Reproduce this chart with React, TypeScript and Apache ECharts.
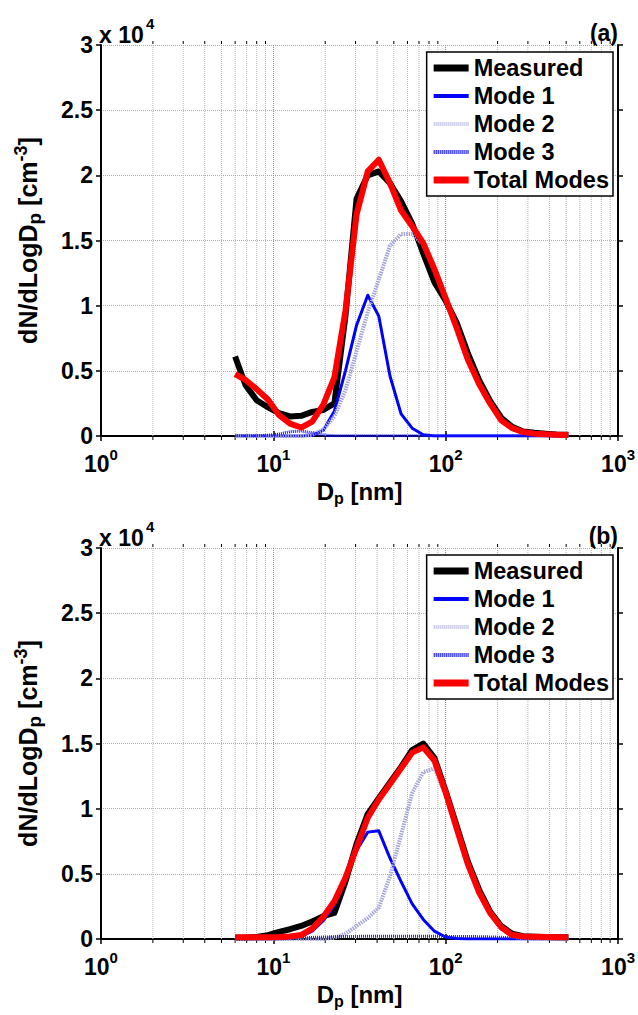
import React, { useEffect, useRef } from "react";
import * as echarts from "echarts";

// particle diameter grid [nm]
const dp = [6.0, 6.9, 8.0, 9.3, 10.8, 12.5, 14.5, 16.8, 19.5, 22.6, 26.2, 30.4, 35.3, 40.9, 47.5, 55.1, 63.9, 74.1, 86.0, 99.7, 115.7, 134, 156, 181, 210, 243, 282, 327, 380, 440, 515];

// panel (a) dN/dLogDp [cm^-3]
const measuredA = [6100, 3900, 2750, 2200, 1750, 1500, 1550, 1850, 2000, 2500, 9200, 18200, 20000, 20300, 19400, 18000, 16300, 14000, 11800, 10400, 8700, 6400, 4300, 2700, 1400, 700, 350, 250, 180, 120, 100];
const mode1A = [0, 0, 0, 0, 0, 0, 0, 30, 450, 1900, 5000, 8500, 10800, 9200, 4600, 1700, 600, 100, 0, 0, 0, 0, 0, 0, 0, 0, 0, 0, 0, 0, 0];
const mode2A = [0, 0, 0, 0, 0, 0, 0, 100, 500, 1500, 3500, 6500, 9500, 12000, 14600, 15500, 15500, 14700, 12700, 10500, 8200, 5800, 3900, 2400, 1150, 550, 280, 150, 90, 50, 30];
const mode3A = [20, 20, 30, 60, 150, 330, 380, 250, 80, 20, 10, 10, 10, 10, 10, 10, 10, 10, 10, 10, 10, 10, 10, 10, 10, 10, 10, 10, 10, 10, 10];
const totalA = [4750, 4300, 3600, 2800, 1600, 950, 650, 1100, 2400, 4500, 9600, 17000, 20300, 21200, 19400, 17300, 16100, 14800, 12800, 10600, 8300, 5900, 4000, 2500, 1200, 600, 300, 180, 130, 100, 80];

// panel (b)
const measuredB = [100, 100, 150, 300, 550, 750, 1000, 1350, 1750, 2000, 4400, 7300, 9600, 10800, 12000, 13200, 14500, 15000, 13900, 11400, 8700, 6000, 3800, 2100, 1000, 400, 220, 180, 150, 140, 130];
const mode1B = [0, 0, 0, 0, 0, 50, 200, 600, 1400, 2600, 4500, 6800, 8200, 8300, 6200, 4400, 2700, 1500, 600, 150, 30, 0, 0, 0, 0, 0, 0, 0, 0, 0, 0];
const mode2B = [0, 0, 0, 0, 0, 0, 0, 0, 0, 100, 400, 1000, 1600, 2400, 4800, 8000, 11200, 12800, 13100, 11100, 8400, 5700, 3500, 1900, 800, 200, 60, 20, 10, 10, 10];
const mode3B = [0, 0, 0, 0, 10, 30, 80, 120, 150, 180, 200, 200, 210, 210, 210, 210, 210, 210, 210, 200, 200, 190, 180, 160, 130, 90, 50, 20, 10, 5, 0];
const totalB = [130, 130, 130, 130, 150, 200, 300, 800, 1700, 2900, 4700, 7000, 9300, 10700, 11900, 13100, 14300, 14700, 13700, 11300, 8500, 5800, 3600, 2000, 900, 300, 200, 170, 150, 140, 130];

// minor log tick positions
const minorX = [2, 3, 4, 5, 6, 7, 8, 9, 20, 30, 40, 50, 60, 70, 80, 90, 200, 300, 400, 500, 600, 700, 800, 900];

const seriesNames = ["Measured", "Mode 1", "Mode 2", "Mode 3", "Total Modes"];
const panelLabels = ["(a)", "(b)"];

const FONT = "'Liberation Sans', Arial, Helvetica, sans-serif";
const Y_MAX = 30000;

function solidIcon(h: number) {
  return `path://M0,0L35,0L35,${h}L0,${h}Z`;
}
function stripedIcon(h: number) {
  let d = "";
  for (let x = 0; x < 35; x += 2) {
    d += `M${x},0L${x + 1.2},0L${x + 1.2},${h}L${x},${h}Z`;
  }
  d += `M34,0L35,0L35,${h}L34,${h}Z`;
  return "path://" + d;
}

export default function App() {
  const ref = useRef<HTMLDivElement>(null);

  useEffect(() => {
    if (!ref.current) return;
    const chart = echarts.init(ref.current, undefined, { renderer: "svg" });

    const gridTop = [45, 548];
    const gridH = 391;

    const pairs = (arr: number[]) => dp.map((d, i) => [d, arr[i]]);

    const xAxes: any[] = [];
    const yAxes: any[] = [];
    const series: any[] = [];
    const legends: any[] = [];
    const graphics: any[] = [];

    const xLabelRich = {
      b: { fontSize: 23, fontWeight: "bold", fontFamily: FONT, color: "#000", lineHeight: 34 },
      s: { fontSize: 15, fontWeight: "bold", fontFamily: FONT, color: "#000", verticalAlign: "top", lineHeight: 16 },
    };

    const styles = [
      { color: "#000000", width: 6, type: "solid" as any },
      { color: "#0000ff", width: 3, type: "solid" as any },
      { color: "#a4a4da", width: 4, type: [1.5, 1] as any },
      { color: "#1a1aff", width: 3, type: [1, 1] as any },
      { color: "#ff0000", width: 6, type: "solid" as any },
    ];
    const legendIcons = [solidIcon(7), solidIcon(4), stripedIcon(4), stripedIcon(4), solidIcon(7)];
    const legendColors = ["#000000", "#0000ff", "#c4c4e6", "#2020ff", "#ff0000"];

    [0, 1].forEach((p) => {
      xAxes.push({
        gridIndex: p,
        type: "log",
        logBase: 10,
        min: 1,
        max: 1000,
        position: "bottom",
        name: "{t|D}{sub|p}{t| [nm]}",
        nameLocation: "middle",
        nameGap: 40,
        nameTextStyle: {
          rich: {
            t: { fontSize: 24, fontWeight: "bold", fontFamily: FONT, color: "#000", lineHeight: 30 },
            sub: { fontSize: 16, fontWeight: "bold", fontFamily: FONT, color: "#000", verticalAlign: "bottom", lineHeight: 14, padding: [13, 0, 0, 0] },
          },
        },
        axisLine: { show: true, lineStyle: { color: "#000", width: 2 } },
        axisTick: { show: true, inside: false, length: 5, lineStyle: { color: "#000", width: 1.5 } },
        axisLabel: {
          margin: 11,
          formatter: (v: number) => `{b|10}{s|${Math.round(Math.log10(v))}}`,
          rich: xLabelRich,
        },
        splitLine: { show: true, lineStyle: { color: "#8a8a8a", type: [1, 1], width: 1 } },
        minorTick: { show: false },
      });
      xAxes.push({
        gridIndex: p,
        type: "log",
        logBase: 10,
        min: 1,
        max: 1000,
        position: "top",
        axisLine: { show: true, lineStyle: { color: "#000", width: 2 } },
        axisTick: { show: true, inside: false, length: 5, lineStyle: { color: "#000", width: 1.5 } },
        axisLabel: { show: false },
        splitLine: { show: false },
      });
      yAxes.push({
        gridIndex: p,
        type: "value",
        min: 0,
        max: Y_MAX,
        interval: 5000,
        position: "left",
        name: "{t|dN/dLogD}{sub|p}{t| [cm}{sup|-3}{t|]}",
        nameLocation: "middle",
        nameRotate: 90,
        nameGap: 57,
        nameTextStyle: {
          rich: {
            t: { fontSize: 25, fontWeight: "bold", fontFamily: FONT, color: "#000", lineHeight: 32 },
            sub: { fontSize: 19, fontWeight: "bold", fontFamily: FONT, color: "#000", verticalAlign: "bottom", lineHeight: 16, padding: [14, 0, 0, 0] },
            sup: { fontSize: 18, fontWeight: "bold", fontFamily: FONT, color: "#000", verticalAlign: "top", lineHeight: 16 },
          },
        },
        axisLine: { show: true, lineStyle: { color: "#000", width: 2 } },
        axisTick: { show: true, inside: false, length: 5, lineStyle: { color: "#000", width: 1.5 } },
        axisLabel: {
          margin: 8,
          formatter: (v: number) => String(v / 10000),
          fontSize: 23,
          fontWeight: "bold",
          fontFamily: FONT,
          color: "#000",
        },
        splitLine: { show: true, lineStyle: { color: "#ababab", type: [1, 1], width: 1 } },
      });
      yAxes.push({
        gridIndex: p,
        type: "value",
        min: 0,
        max: Y_MAX,
        interval: 5000,
        position: "right",
        axisLine: { show: true, lineStyle: { color: "#000", width: 2 } },
        axisTick: { show: true, inside: false, length: 5, lineStyle: { color: "#000", width: 1.5 } },
        axisLabel: { show: false },
        splitLine: { show: false },
      });

      const xi = p * 2;
      const yi = p * 2;
      const data = p === 0
        ? [measuredA, mode1A, mode2A, mode3A, totalA]
        : [measuredB, mode1B, mode2B, mode3B, totalB];

      // minor grid lines and minor ticks
      series.push({
        type: "custom",
        xAxisIndex: xi,
        yAxisIndex: yi,
        silent: true,
        clip: false,
        z: 1,
        data: minorX.map((v) => [v, 0]),
        renderItem: (_params: any, api: any) => {
          const v = api.value(0);
          const b = api.coord([v, 0]);
          const t = api.coord([v, Y_MAX]);
          return {
            type: "group",
            children: [
              { type: "line", shape: { x1: b[0], y1: b[1], x2: t[0], y2: t[1] }, style: { stroke: "#b4b4b4", lineWidth: 1, lineDash: [1, 1] } },
              { type: "line", shape: { x1: b[0], y1: b[1] + 1, x2: b[0], y2: b[1] + 4 }, style: { stroke: "#000", lineWidth: 1 } },
              { type: "line", shape: { x1: t[0], y1: t[1] - 1, x2: t[0], y2: t[1] - 4 }, style: { stroke: "#000", lineWidth: 1 } },
            ],
          };
        },
      });

      seriesNames.forEach((name, k) => {
        series.push({
          type: "line",
          name,
          xAxisIndex: xi,
          yAxisIndex: yi,
          data: pairs(data[k]),
          symbol: "none",
          showSymbol: false,
          smooth: false,
          z: 3 + k,
          lineStyle: { color: styles[k].color, width: styles[k].width, type: styles[k].type, cap: "butt", join: "round" },
          itemStyle: { color: styles[k].color },
        });
      });

      legends.push({
        data: seriesNames.map((n, k) => ({
          name: n,
          icon: legendIcons[k],
          itemStyle: { color: legendColors[k], borderWidth: 0 },
        })),
        orient: "vertical",
        right: 25,
        top: gridTop[p] + 7,
        itemWidth: 35,
        itemHeight: 14,
        itemGap: 4,
        padding: [4, 4, 4, 7],
        backgroundColor: "#fff",
        borderColor: "#000",
        borderWidth: 1.5,
        selectedMode: false,
        symbolKeepAspect: true,
        textStyle: { fontSize: 23.5, fontWeight: "bold", fontFamily: FONT, color: "#000", lineHeight: 24 },
        z: 20,
      });

      graphics.push(
        {
          type: "text",
          x: 99,
          y: gridTop[p] - 10,
          style: { text: "x 10", fontSize: 23, fontWeight: "bold", fontFamily: FONT, fill: "#000", align: "left", verticalAlign: "middle" },
        },
        {
          type: "text",
          x: 146,
          y: gridTop[p] - 22,
          style: { text: "4", fontSize: 15, fontWeight: "bold", fontFamily: FONT, fill: "#000", align: "left", verticalAlign: "middle" },
        },
        {
          type: "text",
          x: 618,
          y: gridTop[p] - 12,
          style: { text: panelLabels[p], fontSize: 23, fontWeight: "bold", fontFamily: FONT, fill: "#000", align: "right", verticalAlign: "middle" },
        }
      );
    });

    chart.setOption({
      animation: false,
      backgroundColor: "#fff",
      grid: [
        { left: 101, right: 18, top: gridTop[0], height: gridH },
        { left: 101, right: 18, top: gridTop[1], height: gridH },
      ],
      xAxis: xAxes,
      yAxis: yAxes,
      legend: legends,
      series,
      graphic: graphics,
    });

    return () => chart.dispose();
  }, []);

  return (
    <div
      ref={ref}
      style={{ position: "fixed", left: 0, top: 0, width: 638, height: 1015, background: "#fff" }}
    />
  );
}
